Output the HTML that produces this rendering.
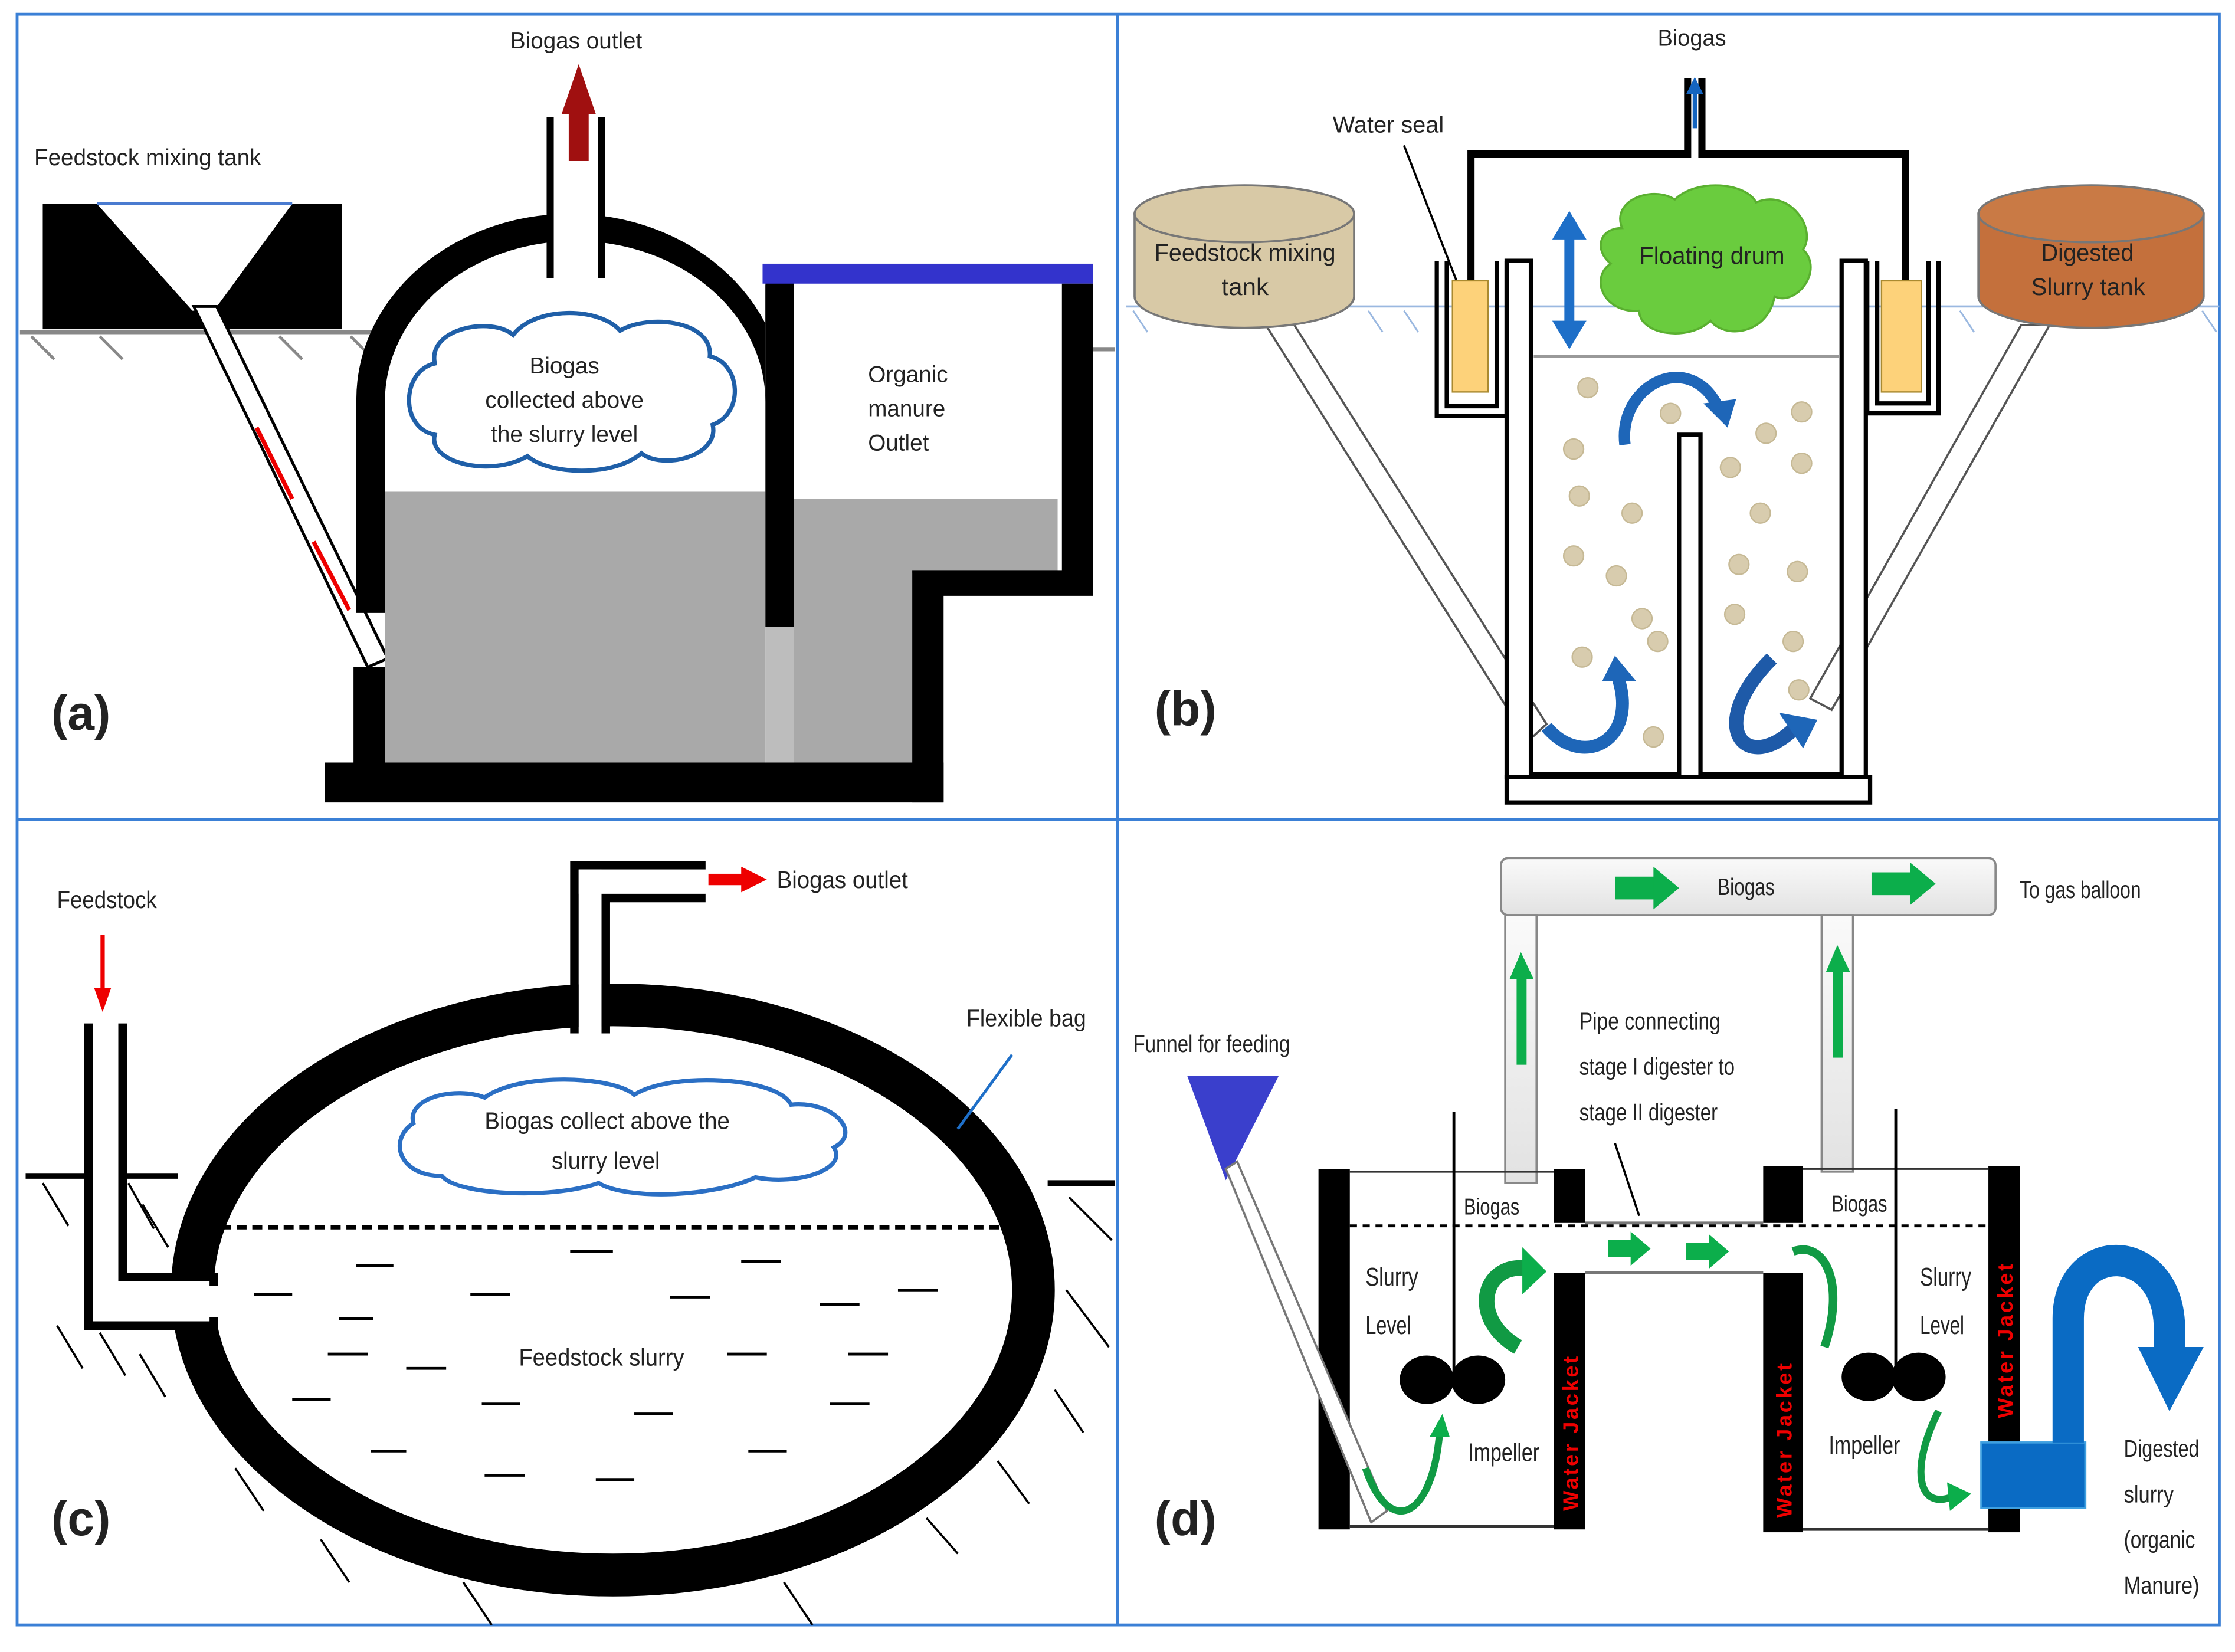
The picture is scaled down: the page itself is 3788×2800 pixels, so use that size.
<!DOCTYPE html>
<html><head><meta charset="utf-8"><style>
html,body{margin:0;padding:0;background:#fff;}
svg{display:block;}
text{font-family:"Liberation Sans",sans-serif;fill:#222;}
</style></head><body>
<svg width="3788" height="2800" viewBox="0 0 1568 1159" preserveAspectRatio="none" xmlns="http://www.w3.org/2000/svg">
<defs>
<marker id="ar" markerWidth="4" markerHeight="4" refX="2" refY="2" orient="auto" markerUnits="strokeWidth"><path d="M0,0 L4,2 L0,4 z" fill="#1565c0"/></marker>
<linearGradient id="pg" x1="0" y1="0" x2="0" y2="1"><stop offset="0" stop-color="#fafafa"/><stop offset="1" stop-color="#e2e2e2"/></linearGradient>
</defs>
<rect width="1568" height="1159" fill="#fff"/>
<g fill="none" stroke="#3b80d6" stroke-width="2">
<rect x="12" y="10" width="1545" height="1130"/>
<line x1="784" y1="10" x2="784" y2="1140"/>
<line x1="12" y1="575" x2="1557" y2="575"/>
</g>

<!-- ===== (a) ===== -->
<text x="24" y="116" font-size="16">Feedstock mixing tank</text>
<text x="358" y="34" font-size="16">Biogas outlet</text>
<line x1="14" y1="233" x2="272" y2="233" stroke="#888" stroke-width="3"/>
<g stroke="#888" stroke-width="2">
<line x1="22" y1="236" x2="38" y2="252"/><line x1="70" y1="236" x2="86" y2="252"/><line x1="196" y1="236" x2="212" y2="252"/><line x1="246" y1="236" x2="262" y2="252"/>
</g>
<line x1="765" y1="245" x2="782" y2="245" stroke="#888" stroke-width="3"/>
<rect x="30" y="143" width="210" height="88" fill="#000"/>
<polygon points="68,143 205,143 150,218 135,218" fill="#fff"/>
<line x1="68" y1="143" x2="205" y2="143" stroke="#4a7bd0" stroke-width="2"/>
<polygon points="136,215 152,215 272,462 258,468" fill="#fff" stroke="#000" stroke-width="2"/>
<line x1="180" y1="300" x2="205" y2="350" stroke="#e00" stroke-width="3"/>
<line x1="220" y1="380" x2="245" y2="428" stroke="#e00" stroke-width="3"/>
<rect x="228" y="535" width="434" height="28" fill="#000"/>
<rect x="248" y="468" width="22" height="70" fill="#000"/>
<path d="M250,430 L250,280 A150,130 0 0 1 550,280 L550,200 L537,200 L537,282 A130,110 0 0 0 270,282 L270,430 Z" fill="#000"/>
<rect x="270" y="345" width="267" height="190" fill="#a9a9a9"/>
<rect x="385" y="82" width="38" height="115" fill="#fff"/>
<line x1="386" y1="82" x2="386" y2="195" stroke="#000" stroke-width="5"/>
<line x1="422" y1="82" x2="422" y2="195" stroke="#000" stroke-width="5"/>
<rect x="399" y="78" width="14" height="35" fill="#a01010"/>
<polygon points="394,80 418,80 406,45" fill="#a01010"/>
<path d="M305,255 C300,230 345,222 360,235 C375,215 420,215 435,232 C455,220 500,225 498,250 C520,255 522,290 500,298 C505,320 465,330 450,318 C430,335 385,333 370,320 C345,335 300,325 305,305 C280,300 282,260 305,255 Z" fill="#fff" stroke="#1f5fa8" stroke-width="3"/>
<text x="396" y="262" font-size="16" text-anchor="middle">Biogas</text>
<text x="396" y="286" font-size="16" text-anchor="middle">collected above</text>
<text x="396" y="310" font-size="16" text-anchor="middle">the slurry level</text>
<rect x="537" y="195" width="20" height="245" fill="#000"/>
<rect x="535" y="185" width="232" height="14" fill="#3333cc"/>
<rect x="537" y="440" width="20" height="95" fill="#bdbdbd"/>
<rect x="557" y="350" width="185" height="52" fill="#a9a9a9"/>
<rect x="557" y="402" width="83" height="133" fill="#a9a9a9"/>
<path d="M745,199 L767,199 L767,418 L662,418 L662,563 L640,563 L640,400 L745,400 Z" fill="#000"/>
<text x="609" y="268" font-size="16">Organic</text>
<text x="609" y="292" font-size="16">manure</text>
<text x="609" y="316" font-size="16">Outlet</text>
<text x="36" y="512" font-size="34" font-weight="bold" fill="#000">(a)</text>

<!-- ===== (b) ===== -->
<text x="1163" y="32" font-size="16" textLength="48" lengthAdjust="spacingAndGlyphs">Biogas</text>
<text x="935" y="93" font-size="16" textLength="78" lengthAdjust="spacingAndGlyphs">Water seal</text>
<line x1="790" y1="215" x2="1557" y2="215" stroke="#9ab8e0" stroke-width="1.5"/>
<g stroke="#9ab8e0" stroke-width="1.2">
<line x1="795" y1="218" x2="805" y2="233"/><line x1="960" y1="218" x2="970" y2="233"/><line x1="985" y1="218" x2="995" y2="233"/><line x1="1375" y1="218" x2="1385" y2="233"/><line x1="1545" y1="218" x2="1555" y2="233"/>
</g>
<polygon points="888,228 908,228 1085,508 1072,520" fill="#fff" stroke="#555" stroke-width="1.5"/>
<polygon points="1418,228 1438,228 1285,498 1270,490" fill="#fff" stroke="#555" stroke-width="1.5"/>
<path d="M796,150 L796,208 A77,22 0 0 0 950,208 L950,150 Z" fill="#d8c9a6" stroke="#777" stroke-width="1.5"/>
<ellipse cx="873" cy="150" rx="77" ry="20" fill="#d8c9a6" stroke="#777" stroke-width="1.5"/>
<text x="810" y="183" font-size="17" textLength="127" lengthAdjust="spacingAndGlyphs">Feedstock mixing</text>
<text x="857" y="207" font-size="17" textLength="33" lengthAdjust="spacingAndGlyphs">tank</text>
<path d="M1388,150 L1388,208 A79,22 0 0 0 1546,208 L1546,150 Z" fill="#c4703c" stroke="#777" stroke-width="1.5"/>
<ellipse cx="1467" cy="150" rx="79" ry="20" fill="#c97a45" stroke="#777" stroke-width="1.5"/>
<text x="1432" y="183" font-size="17" textLength="65" lengthAdjust="spacingAndGlyphs">Digested</text>
<text x="1425" y="207" font-size="17" textLength="80" lengthAdjust="spacingAndGlyphs">Slurry tank</text>
<path d="M1032,200 L1032,108 L1184,108 L1184,55 M1194,55 L1194,108 L1337,108 L1337,200" fill="none" stroke="#000" stroke-width="5"/>
<line x1="1189" y1="90" x2="1189" y2="60" stroke="#1565c0" stroke-width="3" marker-end="url(#ar)"/>
<line x1="985" y1="102" x2="1030" y2="218" stroke="#000" stroke-width="1.5"/>
<path d="M1008,183 L1008,292 L1057,292 L1057,183 M1015,183 L1015,285 L1050,285 L1050,183" fill="none" stroke="#000" stroke-width="3"/>
<rect x="1019" y="197" width="25" height="78" fill="#fdd27a" stroke="#aa8a30"/>
<path d="M1310,183 L1310,290 L1360,290 L1360,183 M1317,183 L1317,283 L1353,283 L1353,183" fill="none" stroke="#000" stroke-width="3"/>
<rect x="1320" y="197" width="28" height="78" fill="#fdd27a" stroke="#aa8a30"/>
<rect x="1057" y="183" width="17" height="362" fill="#fff" stroke="#000" stroke-width="3"/>
<rect x="1292" y="183" width="17" height="362" fill="#fff" stroke="#000" stroke-width="3"/>
<rect x="1057" y="545" width="255" height="18" fill="#fff" stroke="#000" stroke-width="3"/>
<line x1="1074" y1="543" x2="1292" y2="543" stroke="#000" stroke-width="3"/>
<line x1="1076" y1="250" x2="1290" y2="250" stroke="#999" stroke-width="2"/>
<rect x="1178" y="305" width="15" height="240" fill="#fff" stroke="#000" stroke-width="3"/>
<path d="M1138,160 C1130,140 1160,130 1175,140 C1190,125 1225,128 1232,142 C1255,132 1275,160 1265,175 C1280,190 1260,215 1245,208 C1240,235 1210,238 1200,225 C1185,240 1150,235 1150,218 C1125,220 1115,195 1130,185 C1118,175 1122,160 1138,160 Z" fill="#6acc3e" stroke="#5ab030" stroke-width="1.5"/>
<text x="1150" y="185" font-size="17" textLength="102" lengthAdjust="spacingAndGlyphs">Floating drum</text>
<line x1="1101" y1="165" x2="1101" y2="228" stroke="#1e6fc8" stroke-width="7"/>
<polygon points="1089,168 1113,168 1101,148" fill="#1e6fc8"/>
<polygon points="1089,225 1113,225 1101,245" fill="#1e6fc8"/>
<g fill="#d8ccae" stroke="#c6b995" stroke-width="1">
<circle cx="1114" cy="272" r="7"/><circle cx="1172" cy="290" r="7"/><circle cx="1104" cy="315" r="7"/><circle cx="1108" cy="348" r="7"/><circle cx="1145" cy="360" r="7"/><circle cx="1104" cy="390" r="7"/><circle cx="1134" cy="404" r="7"/><circle cx="1152" cy="434" r="7"/><circle cx="1163" cy="450" r="7"/><circle cx="1110" cy="461" r="7"/><circle cx="1160" cy="517" r="7"/>
<circle cx="1264" cy="289" r="7"/><circle cx="1239" cy="304" r="7"/><circle cx="1214" cy="328" r="7"/><circle cx="1264" cy="325" r="7"/><circle cx="1235" cy="360" r="7"/><circle cx="1220" cy="396" r="7"/><circle cx="1261" cy="401" r="7"/><circle cx="1217" cy="431" r="7"/><circle cx="1258" cy="450" r="7"/><circle cx="1262" cy="484" r="7"/>
</g>
<path d="M1140,312 C1135,270 1185,245 1205,285" fill="none" stroke="#1e66b8" stroke-width="8"/>
<polygon points="1195,283 1218,280 1212,300" fill="#1e66b8"/>
<path d="M1085,510 C1110,540 1150,520 1135,475" fill="none" stroke="#1e66b8" stroke-width="9"/>
<polygon points="1124,478 1148,478 1133,460" fill="#1e66b8"/>
<path d="M1243,462 C1195,510 1225,545 1260,510" fill="none" stroke="#1e5aa8" stroke-width="10"/>
<polygon points="1248,500 1275,505 1265,525" fill="#1e66b8"/>
<text x="810" y="509" font-size="34" font-weight="bold" fill="#000">(b)</text>

<!-- ===== (c) ===== -->
<text x="40" y="637" font-size="17" textLength="70" lengthAdjust="spacingAndGlyphs">Feedstock</text>
<line x1="72" y1="656" x2="72" y2="695" stroke="#e00" stroke-width="3"/>
<polygon points="66,693 78,693 72,710" fill="#e00"/>
<line x1="18" y1="825" x2="125" y2="825" stroke="#000" stroke-width="4"/>
<line x1="735" y1="830" x2="782" y2="830" stroke="#000" stroke-width="4"/>
<g stroke="#000" stroke-width="1.5">
<line x1="30" y1="830" x2="48" y2="860"/><line x1="90" y1="830" x2="108" y2="862"/><line x1="100" y1="845" x2="118" y2="875"/>
<line x1="40" y1="930" x2="58" y2="960"/><line x1="70" y1="935" x2="88" y2="965"/><line x1="98" y1="950" x2="116" y2="980"/>
<line x1="165" y1="1030" x2="185" y2="1060"/><line x1="225" y1="1080" x2="245" y2="1110"/><line x1="325" y1="1110" x2="345" y2="1140"/><line x1="550" y1="1110" x2="570" y2="1140"/><line x1="650" y1="1065" x2="672" y2="1090"/><line x1="700" y1="1025" x2="722" y2="1055"/><line x1="740" y1="975" x2="760" y2="1005"/><line x1="748" y1="905" x2="778" y2="945"/><line x1="750" y1="840" x2="780" y2="870"/>
</g>
<ellipse cx="430" cy="905" rx="295" ry="200" fill="#fff" stroke="#000" stroke-width="30"/>
<path d="M62,718 L62,930 L150,930 L150,896 L86,896 L86,718" fill="#fff" stroke="#000" stroke-width="6"/>
<rect x="68" y="718" width="14" height="200" fill="#fff"/>
<rect x="68" y="902" width="88" height="22" fill="#fff"/>
<path d="M403,725 L403,607 L495,607 M425,725 L425,630 L495,630" fill="none" stroke="#000" stroke-width="6"/>
<rect x="406" y="610" width="16" height="120" fill="#fff"/>
<rect x="406" y="610" width="89" height="17" fill="#fff"/>
<rect x="497" y="613" width="26" height="8" fill="#e00"/>
<polygon points="520,608 538,617 520,626" fill="#e00"/>
<text x="545" y="623" font-size="17" textLength="92" lengthAdjust="spacingAndGlyphs">Biogas outlet</text>
<text x="678" y="720" font-size="17" textLength="84" lengthAdjust="spacingAndGlyphs">Flexible bag</text>
<line x1="710" y1="740" x2="672" y2="792" stroke="#1e6fc8" stroke-width="2"/>
<path d="M290,788 C285,770 320,762 340,770 C365,752 430,755 445,768 C470,752 545,755 555,775 C585,772 605,795 585,805 C595,820 560,832 530,826 C500,840 440,842 420,830 C385,842 320,838 310,825 C280,825 272,800 290,788 Z" fill="#fff" stroke="#2b6fc4" stroke-width="3"/>
<text x="340" y="792" font-size="17" textLength="172" lengthAdjust="spacingAndGlyphs">Biogas collect above the</text>
<text x="387" y="820" font-size="17" textLength="76" lengthAdjust="spacingAndGlyphs">slurry level</text>
<line x1="155" y1="861" x2="710" y2="861" stroke="#000" stroke-width="3" stroke-dasharray="7,4"/>
<g stroke="#000" stroke-width="2">
<line x1="250" y1="888" x2="276" y2="888"/><line x1="400" y1="878" x2="430" y2="878"/><line x1="520" y1="885" x2="548" y2="885"/>
<line x1="178" y1="908" x2="205" y2="908"/><line x1="330" y1="908" x2="358" y2="908"/><line x1="470" y1="910" x2="498" y2="910"/><line x1="630" y1="905" x2="658" y2="905"/><line x1="575" y1="915" x2="603" y2="915"/>
<line x1="238" y1="925" x2="262" y2="925"/><line x1="230" y1="950" x2="258" y2="950"/><line x1="285" y1="960" x2="313" y2="960"/><line x1="510" y1="950" x2="538" y2="950"/><line x1="595" y1="950" x2="623" y2="950"/>
<line x1="205" y1="982" x2="232" y2="982"/><line x1="338" y1="985" x2="365" y2="985"/><line x1="445" y1="992" x2="472" y2="992"/><line x1="582" y1="985" x2="610" y2="985"/>
<line x1="260" y1="1018" x2="285" y2="1018"/><line x1="340" y1="1035" x2="368" y2="1035"/><line x1="525" y1="1018" x2="552" y2="1018"/><line x1="418" y1="1038" x2="445" y2="1038"/>
</g>
<text x="364" y="958" font-size="17" textLength="116" lengthAdjust="spacingAndGlyphs">Feedstock slurry</text>
<text x="36" y="1077" font-size="34" font-weight="bold" fill="#000">(c)</text>

<!-- ===== (d) ===== -->
<rect x="1053" y="602" width="347" height="40" rx="5" fill="url(#pg)" stroke="#888" stroke-width="1.5"/>
<text x="1205" y="628" font-size="17" textLength="40" lengthAdjust="spacingAndGlyphs">Biogas</text>
<text x="1417" y="630" font-size="17" textLength="85" lengthAdjust="spacingAndGlyphs">To gas balloon</text>
<rect x="1133" y="615" width="30" height="16" fill="#0cae4b"/><polygon points="1160,608 1178,623 1160,638" fill="#0cae4b"/>
<rect x="1313" y="612" width="30" height="16" fill="#0cae4b"/><polygon points="1340,605 1358,620 1340,635" fill="#0cae4b"/>
<rect x="1056" y="642" width="22" height="188" fill="url(#pg)" stroke="#888" stroke-width="1.5"/>
<rect x="1278" y="642" width="22" height="180" fill="url(#pg)" stroke="#888" stroke-width="1.5"/>
<rect x="1064" y="685" width="7" height="62" fill="#0cae4b"/><polygon points="1059,687 1076,687 1067,668" fill="#0cae4b"/>
<rect x="1286" y="680" width="7" height="62" fill="#0cae4b"/><polygon points="1281,682 1298,682 1289,663" fill="#0cae4b"/>
<text x="1108" y="722" font-size="17" textLength="99" lengthAdjust="spacingAndGlyphs">Pipe connecting</text>
<text x="1108" y="754" font-size="17" textLength="109" lengthAdjust="spacingAndGlyphs">stage I digester to</text>
<text x="1108" y="786" font-size="17" textLength="97" lengthAdjust="spacingAndGlyphs">stage II digester</text>
<line x1="1133" y1="802" x2="1150" y2="853" stroke="#000" stroke-width="1.5"/>
<text x="795" y="738" font-size="17" textLength="110" lengthAdjust="spacingAndGlyphs">Funnel for feeding</text>
<polygon points="833,755 897,755 860,828" fill="#3a3fcc"/>
<rect x="925" y="820" width="22" height="253" fill="#000"/>
<rect x="1090" y="820" width="22" height="253" fill="#000"/>
<line x1="947" y1="822" x2="1090" y2="822" stroke="#333" stroke-width="1.5"/>
<line x1="947" y1="1071" x2="1090" y2="1071" stroke="#333" stroke-width="2"/>
<rect x="1237" y="818" width="28" height="257" fill="#000"/>
<rect x="1395" y="818" width="22" height="257" fill="#000"/>
<line x1="1265" y1="820" x2="1395" y2="820" stroke="#333" stroke-width="1.5"/>
<line x1="1265" y1="1073" x2="1395" y2="1073" stroke="#333" stroke-width="2"/>
<rect x="1088" y="858" width="180" height="35" fill="#fff"/>
<line x1="1112" y1="858" x2="1237" y2="858" stroke="#777" stroke-width="2"/>
<line x1="1112" y1="893" x2="1237" y2="893" stroke="#777" stroke-width="2"/>
<line x1="947" y1="860" x2="1395" y2="860" stroke="#000" stroke-width="2" stroke-dasharray="5,4"/>
<rect x="1128" y="870" width="18" height="12" fill="#0cae4b"/><polygon points="1144,864 1158,876 1144,888" fill="#0cae4b"/>
<rect x="1183" y="872" width="18" height="12" fill="#0cae4b"/><polygon points="1199,866 1213,878 1199,890" fill="#0cae4b"/>
<polygon points="860,820 868,815 973,1060 962,1068" fill="#fff" stroke="#777" stroke-width="1.5"/>
<line x1="1020" y1="780" x2="1020" y2="965" stroke="#000" stroke-width="2"/>
<ellipse cx="1001" cy="968" rx="19" ry="17" fill="#000"/><ellipse cx="1037" cy="968" rx="19" ry="17" fill="#000"/>
<line x1="1330" y1="778" x2="1330" y2="965" stroke="#000" stroke-width="2"/>
<ellipse cx="1311" cy="966" rx="19" ry="17" fill="#000"/><ellipse cx="1346" cy="966" rx="19" ry="17" fill="#000"/>
<text x="1027" y="852" font-size="16" textLength="39" lengthAdjust="spacingAndGlyphs">Biogas</text>
<text x="1285" y="850" font-size="16" textLength="39" lengthAdjust="spacingAndGlyphs">Biogas</text>
<text x="958" y="902" font-size="18" textLength="37" lengthAdjust="spacingAndGlyphs">Slurry</text>
<text x="958" y="936" font-size="18" textLength="32" lengthAdjust="spacingAndGlyphs">Level</text>
<text x="1347" y="902" font-size="18" textLength="36" lengthAdjust="spacingAndGlyphs">Slurry</text>
<text x="1347" y="936" font-size="18" textLength="31" lengthAdjust="spacingAndGlyphs">Level</text>
<text x="1030" y="1025" font-size="18" textLength="50" lengthAdjust="spacingAndGlyphs">Impeller</text>
<text x="1283" y="1020" font-size="18" textLength="50" lengthAdjust="spacingAndGlyphs">Impeller</text>
<text transform="translate(1107,1060) rotate(-90)" font-size="15" font-weight="bold" style="fill:#e00" letter-spacing="1.5">Water Jacket</text>
<text transform="translate(1257,1065) rotate(-90)" font-size="15" font-weight="bold" style="fill:#e00" letter-spacing="1.5">Water Jacket</text>
<text transform="translate(1412,995) rotate(-90)" font-size="15" font-weight="bold" style="fill:#e00" letter-spacing="1.5">Water Jacket</text>
<path d="M1065,945 C1030,925 1040,885 1072,890" fill="none" stroke="#119a44" stroke-width="11"/>
<polygon points="1068,875 1085,892 1068,908" fill="#0cae4b"/>
<path d="M958,1030 C975,1080 1005,1065 1010,1005" fill="none" stroke="#119a44" stroke-width="5"/>
<polygon points="1003,1008 1017,1008 1012,992" fill="#0cae4b"/>
<path d="M1258,878 C1280,870 1295,900 1280,945" fill="none" stroke="#119a44" stroke-width="6"/>
<path d="M1360,990 C1340,1030 1345,1060 1370,1050" fill="none" stroke="#119a44" stroke-width="5"/>
<polygon points="1366,1040 1383,1048 1368,1060" fill="#0cae4b"/>
<rect x="1390" y="1012" width="73" height="46" fill="#0a6bc4" stroke="#3fa0e0" stroke-width="1.5"/>
<path d="M1451,1012 L1451,925 C1451,870 1520,870 1522,930 L1522,950" fill="none" stroke="#0a6bc4" stroke-width="22"/>
<polygon points="1500,945 1546,945 1522,990" fill="#0a6bc4"/>
<text x="1490" y="1022" font-size="17" textLength="53" lengthAdjust="spacingAndGlyphs">Digested</text>
<text x="1490" y="1054" font-size="17" textLength="35" lengthAdjust="spacingAndGlyphs">slurry</text>
<text x="1490" y="1086" font-size="17" textLength="50" lengthAdjust="spacingAndGlyphs">(organic</text>
<text x="1490" y="1118" font-size="17" textLength="53" lengthAdjust="spacingAndGlyphs">Manure)</text>
<text x="810" y="1077" font-size="34" font-weight="bold" fill="#000">(d)</text>
</svg>
</body></html>
